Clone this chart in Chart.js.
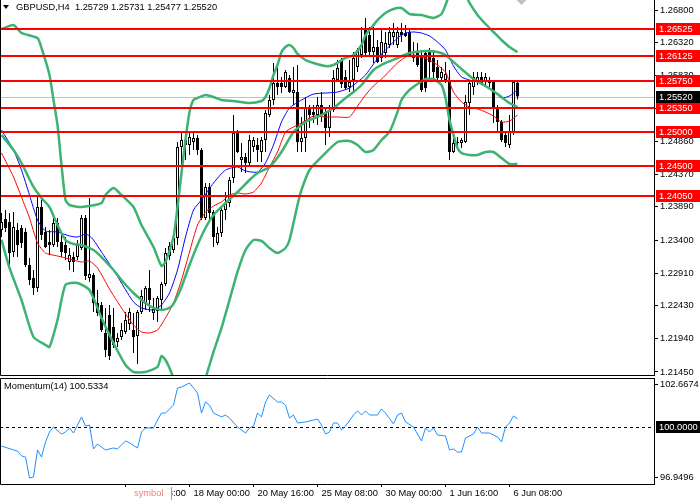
<!DOCTYPE html>
<html>
<head>
<meta charset="utf-8">
<script src="https://cdn.jsdelivr.net/npm/chart.js@4.4.0/dist/chart.umd.min.js"></script>
<style>
html, body { margin: 0; padding: 0; background: #fff; }
#wrap { position: relative; width: 700px; height: 500px; overflow: hidden; background: #fff; }
#priceCanvas { position: absolute; left: 0; top: 0; }
#momCanvas { position: absolute; left: 0; top: 377px; }
</style>
</head>
<body>
<div id="wrap">
  <canvas id="priceCanvas" width="700" height="377"></canvas>
  <canvas id="momCanvas" width="700" height="123"></canvas>
</div>
<script>
// GBPUSD H4 candles, index 0 = oldest bar on screen
const opens = [
  1.23549,1.23711,1.23667,1.23223,1.23549,1.23578,1.23519,1.23031,1.22839,1.22691,
  1.23889,1.23519,1.23371,1.23327,1.23652,1.23371,1.23327,1.23076,1.23149,1.23149,
  1.23283,1.23726,1.22839,1.22883,1.22470,1.22440,1.22026,1.22292,1.22115,1.21893,
  1.21967,1.22041,1.22159,1.22071,1.21982,1.22337,1.22455,1.22691,1.22322,1.22351,
  1.22514,1.22750,1.23164,1.23253,1.23430,1.24775,1.24879,1.24805,1.24849,1.24908,
  1.24731,1.23726,1.24184,1.23815,1.23356,1.23504,1.23844,1.23948,1.24317,1.24982,
  1.24583,1.24628,1.24539,1.24775,1.24805,1.24701,1.24879,1.25248,1.25470,1.25721,
  1.25721,1.25662,1.25795,1.25573,1.25588,1.24849,1.24908,1.25352,1.25293,1.25248,
  1.25396,1.25293,1.25056,1.25322,1.25766,1.26061,1.25810,1.25662,1.25766,1.25958,
  1.26135,1.26505,1.26431,1.26179,1.26253,1.26091,1.26165,1.26283,1.26401,1.26283,
  1.26475,1.26460,1.26475,1.26135,1.26165,1.26135,1.26165,1.26209,1.26091,1.25958,
  1.25795,1.25766,1.25766,1.24701,1.24834,1.24834,1.24849,1.25426,1.25662,1.25736,
  1.25810,1.25736,1.25766,1.25736,1.25367,1.25145,1.24953,1.24805,1.24982,1.25729
];
const highs = [
  1.23800,1.23844,1.23800,1.23815,1.23652,1.23622,1.23578,1.23135,1.22957,1.24036,
  1.24036,1.23593,1.23549,1.23726,1.23726,1.23504,1.23445,1.23283,1.23223,1.23401,
  1.23770,1.23770,1.24022,1.22913,1.22662,1.22484,1.22396,1.22440,1.22396,1.22026,
  1.22174,1.22337,1.22396,1.22322,1.22366,1.22662,1.22721,1.22957,1.22544,1.22573,
  1.22780,1.23283,1.23371,1.23460,1.24849,1.24982,1.24982,1.24982,1.24997,1.24953,
  1.24761,1.24243,1.24243,1.23844,1.23593,1.23874,1.24110,1.24332,1.25248,1.25027,
  1.24834,1.24687,1.24953,1.24923,1.24908,1.24923,1.25322,1.25544,1.26017,1.26017,
  1.25810,1.25913,1.25839,1.25958,1.25987,1.25219,1.25500,1.25396,1.25396,1.25514,
  1.25588,1.25367,1.25396,1.25913,1.26061,1.26091,1.25913,1.26061,1.26179,1.26239,
  1.26549,1.26682,1.26549,1.26549,1.26357,1.26534,1.26475,1.26549,1.26608,1.26549,
  1.26608,1.26578,1.26505,1.26327,1.26312,1.26209,1.26209,1.26239,1.26209,1.26061,
  1.25958,1.26032,1.25913,1.24982,1.24923,1.24908,1.25544,1.25766,1.25884,1.25884,
  1.25884,1.25869,1.25810,1.25766,1.25396,1.25174,1.24997,1.25248,1.25766,1.25731
];
const lows = [
  1.23445,1.23519,1.23002,1.23149,1.23149,1.23283,1.23002,1.22736,1.22588,1.22632,
  1.23401,1.23283,1.23179,1.23297,1.23297,1.23149,1.23105,1.22957,1.22928,1.23105,
  1.23253,1.22810,1.22780,1.22337,1.22278,1.22041,1.21672,1.21627,1.21805,1.21819,
  1.21923,1.22011,1.22071,1.21731,1.21568,1.22307,1.22366,1.22337,1.22218,1.22189,
  1.22366,1.22721,1.23105,1.23209,1.23327,1.24509,1.24583,1.24657,1.24731,1.24657,
  1.23696,1.23696,1.23696,1.23297,1.23327,1.23445,1.23696,1.23889,1.24243,1.24687,
  1.24406,1.24391,1.24509,1.24701,1.24554,1.24554,1.24701,1.25219,1.25396,1.25544,
  1.25573,1.25647,1.25573,1.25396,1.24701,1.24701,1.24701,1.25056,1.25130,1.25100,
  1.25145,1.24805,1.24923,1.25293,1.25736,1.25647,1.25618,1.25588,1.25588,1.25884,
  1.26091,1.26106,1.26106,1.26017,1.26017,1.26032,1.26091,1.26239,1.26283,1.26239,
  1.26327,1.26401,1.26106,1.26032,1.25958,1.25588,1.25588,1.25766,1.25795,1.25766,
  1.25736,1.25721,1.24583,1.24687,1.24775,1.24761,1.24834,1.25248,1.25544,1.25692,
  1.25692,1.25662,1.25662,1.25130,1.24997,1.24849,1.24775,1.24761,1.24953,1.25477
];
const closes = [
  1.23667,1.23578,1.23209,1.23593,1.23327,1.23356,1.23031,1.22810,1.22691,1.23889,
  1.23475,1.23297,1.23327,1.23652,1.23371,1.23223,1.23209,1.23179,1.23076,1.23327,
  1.23726,1.22869,1.22898,1.22470,1.22322,1.22071,1.21775,1.21686,1.21849,1.21952,
  1.22071,1.22218,1.22337,1.21967,1.22337,1.22573,1.22691,1.22514,1.22381,1.22544,
  1.22750,1.23209,1.23312,1.23430,1.24775,1.24879,1.24805,1.24923,1.24908,1.24731,
  1.23726,1.24184,1.23800,1.23445,1.23504,1.23844,1.23948,1.24288,1.24982,1.24701,
  1.24628,1.24539,1.24879,1.24879,1.24731,1.24879,1.25278,1.25470,1.25721,1.25662,
  1.25662,1.25884,1.25588,1.25618,1.24849,1.24908,1.25352,1.25248,1.25248,1.25396,
  1.25248,1.25056,1.25322,1.25795,1.25943,1.25706,1.25647,1.25736,1.26091,1.26209,
  1.26283,1.26165,1.26179,1.26253,1.26032,1.26327,1.26312,1.26475,1.26475,1.26475,
  1.26431,1.26416,1.26135,1.26091,1.25987,1.25618,1.25647,1.26032,1.25884,1.25795,
  1.25884,1.25854,1.24701,1.24834,1.24849,1.24879,1.25440,1.25721,1.25810,1.25810,
  1.25721,1.25810,1.25721,1.25367,1.25145,1.24879,1.24834,1.24997,1.25736,1.25520
];

// Bollinger bands (bar index, value)
const bbUpIdx = [0,3,5,9,10,12,13,14,15,16,17,20,25,26,28,30,33,35,38,40,41,43,44,45,46,47,48,49,51,53,55,58,62,65,66,67,68,69,70,71,72,73,74,76,78,81,83,86,88,90,91,92,94,96,98,100,102,105,108,110,111,112,114,116,117,119,121,123,125,127,129];
const bbUp = [1.26519,1.26578,1.26460,1.26386,1.26239,1.25839,1.25470,1.25100,1.24509,1.23992,1.23918,1.23888,1.23947,1.24066,1.24169,1.24066,1.23888,1.23622,1.23297,1.23016,1.23076,1.23445,1.23888,1.24391,1.24879,1.25292,1.25470,1.25499,1.25544,1.25514,1.25470,1.25455,1.25425,1.25455,1.25514,1.25647,1.25839,1.25987,1.26179,1.26253,1.26283,1.26238,1.26150,1.26061,1.26017,1.25972,1.25987,1.26091,1.26135,1.26283,1.26430,1.26504,1.26652,1.26756,1.26815,1.26830,1.26741,1.26726,1.26682,1.26741,1.26874,1.27022,1.27125,1.27022,1.26904,1.26726,1.26593,1.26475,1.26357,1.26253,1.26179];
const bbMidIdx = [0,3,5,8,10,12,14,16,18,20,23,25,28,30,33,36,38,40,42,43,45,47,49,51,53,56,59,62,64,67,70,73,76,79,83,86,88,90,93,96,99,102,106,109,111,113,115,118,121,124,127,129];
const bbMid = [1.24953,1.24731,1.24539,1.24184,1.24021,1.23888,1.23622,1.23401,1.23342,1.23327,1.23253,1.23149,1.22957,1.22809,1.22617,1.22469,1.22396,1.22366,1.22396,1.22455,1.22706,1.23031,1.23327,1.23578,1.23770,1.23947,1.24110,1.24287,1.24391,1.24480,1.24701,1.24997,1.25145,1.25219,1.25352,1.25500,1.25588,1.25692,1.25913,1.26017,1.26091,1.26164,1.26194,1.26179,1.26135,1.26031,1.25928,1.25780,1.25677,1.25559,1.25425,1.25366];
const bbLowIdx = [0,2,5,8,11,12,14,16,19,22,25,28,31,33,36,39,40,41,42,43,45,47,49,51,53,55,57,59,61,63,65,67,69,71,72,74,75,77,80,84,87,89,91,93,95,97,99,100,102,104,106,108,110,111,112,113,114,115,117,119,121,123,125,127,129];
const bbLow = [1.23401,1.22987,1.22514,1.21967,1.21849,1.21819,1.22218,1.22736,1.22765,1.22662,1.22248,1.21878,1.21553,1.21450,1.21450,1.21524,1.21686,1.21627,1.21509,1.21361,1.21110,1.20962,1.21036,1.21361,1.21745,1.22100,1.22514,1.22928,1.23253,1.23401,1.23386,1.23282,1.23208,1.23282,1.23401,1.23918,1.24140,1.24435,1.24627,1.24849,1.24864,1.24805,1.24701,1.24731,1.24879,1.24997,1.25292,1.25470,1.25618,1.25706,1.25780,1.25780,1.25691,1.25499,1.25174,1.24953,1.24760,1.24686,1.24657,1.24657,1.24701,1.24701,1.24612,1.24524,1.24524];

// moving averages (blue = fast, red = slow)
const maFastIdx = [0,3,5,7,9,11,14,17,19,21,22,23,25,28,30,33,35,38,40,42,44,46,48,50,53,56,59,61,64,66,68,70,72,75,78,81,84,87,89,91,93,95,97,99,101,103,105,107,109,111,113,115,117,119,121,123,125,127,129];
const maFast = [1.25026,1.24731,1.24435,1.24066,1.23696,1.23533,1.23519,1.23460,1.23445,1.23489,1.23460,1.23401,1.23223,1.22957,1.22765,1.22484,1.22396,1.22366,1.22440,1.22617,1.22957,1.23445,1.23844,1.23992,1.24243,1.24435,1.24480,1.24420,1.24406,1.24539,1.24805,1.25145,1.25352,1.25470,1.25558,1.25573,1.25588,1.25647,1.25736,1.25839,1.26002,1.26150,1.26268,1.26386,1.26460,1.26475,1.26460,1.26416,1.26327,1.26209,1.25972,1.25810,1.25765,1.25736,1.25677,1.25603,1.25499,1.25529,1.25618];
const maSlowIdx = [0,3,5,7,9,11,14,17,20,22,24,27,30,33,35,37,39,41,43,45,47,49,51,53,55,57,59,61,63,65,67,69,71,73,75,78,81,84,87,89,91,93,95,97,99,101,103,105,107,109,111,112,113,115,117,119,121,123,125,127,129];
const maSlow = [1.24687,1.24332,1.24036,1.23726,1.23356,1.23208,1.23164,1.23120,1.23075,1.23090,1.22987,1.22676,1.22396,1.22144,1.22041,1.22026,1.22070,1.22248,1.22469,1.22809,1.23223,1.23622,1.23814,1.23903,1.23962,1.24066,1.24095,1.24080,1.24110,1.24243,1.24480,1.24701,1.24997,1.25071,1.25130,1.25233,1.25219,1.25219,1.25219,1.25381,1.25544,1.25677,1.25780,1.25898,1.26017,1.26105,1.26135,1.26105,1.26061,1.25987,1.25884,1.25736,1.25588,1.25440,1.25366,1.25337,1.25292,1.25233,1.25144,1.25159,1.25248];

// Momentum(14)
const momIdx = [0,3,4,5,6,7,8,9,10,11,12,13,15,16,17,18,20,21,22,23,24,26,28,29,31,32,34,35,36,38,39,40,41,43,44,45,47,49,50,51,52,53,55,56,57,59,60,61,62,63,64,65,66,67,69,70,71,72,73,74,76,78,79,80,81,82,83,84,85,86,88,89,90,91,92,94,95,96,98,99,100,101,103,105,106,107,108,109,111,112,113,114,115,116,118,119,120,122,124,125,126,127,128,129];
const momVal = [98.86,98.62,98.55,98.25,98.18,96.89,96.95,98.62,98.18,99.11,99.72,100.03,99.60,99.72,99.97,99.66,100.65,100.09,100.15,98.68,98.98,98.62,98.74,98.68,99.17,99.05,98.74,99.72,99.97,99.97,100.46,100.89,100.89,101.38,102.43,102.49,102.74,102.12,100.89,101.57,101.38,100.89,100.65,100.77,100.58,100.03,99.85,99.66,99.97,100.09,100.89,100.65,101.57,102.00,101.57,101.57,101.38,100.58,100.77,100.28,100.34,100.46,100.52,100.15,99.60,99.72,100.28,100.28,99.85,100.09,100.77,101.02,100.77,101.02,100.77,100.77,101.14,100.89,100.22,100.77,100.89,100.34,100.03,99.17,99.97,99.72,99.97,99.54,99.48,98.62,98.68,98.49,98.49,99.35,99.60,100.03,99.66,99.66,99.42,99.11,100.03,100.28,100.71,100.5334];
const momLevel = 100;

// horizontal levels and axis ticks
const levels = [1.26525, 1.26125, 1.25750, 1.25350, 1.25000, 1.24500, 1.24050];
const priceTicks = [1.26800, 1.26320, 1.25830, 1.25340, 1.24860, 1.24370, 1.23890, 1.23400, 1.22910, 1.22430, 1.21940, 1.21450];
const momTicks = [96.9496, 102.6674];
const timeIdx = [31, 47, 63, 79, 95, 111, 127];
const timeLabels = ['13 May 08:00', '18 May 00:00', '20 May 16:00', '25 May 08:00', '30 May 00:00', '1 Jun 16:00', '6 Jun 08:00'];

const symbolName = 'GBPUSD,H4';
const last = closes.length - 1;
const lastClose = closes[last];

const FONT_FAMILY = '"Liberation Sans", Arial, sans-serif';
const FONT_SIZE = 9.3;
Chart.defaults.font.family = FONT_FAMILY;
Chart.defaults.font.size = FONT_SIZE;
Chart.defaults.color = '#000';

const xMin = -0.375, xMax = 163.125;
const AXIS_W = 46;

function pts(idx, vals) {
    return idx.map((x, k) => ({ x: x, y: vals[k] }));
}

function lineSet(data, color, width, order) {
    return {
        type: 'line', data: data, borderColor: color, borderWidth: width,
        pointRadius: 0, fill: false, tension: 0.2, order: order
    };
}

function fixRightAxis(scale) {
    scale.width = AXIS_W;
    scale.paddingTop = 0;
    scale.paddingBottom = 0;
}

function axisBox(ctx, area, py, text, bg) {
    const y = Math.round(py);
    ctx.fillStyle = bg;
    ctx.fillRect(area.right + 2, y - 6, 44, 12);
    ctx.fillStyle = '#fff';
    ctx.font = FONT_SIZE + 'px ' + FONT_FAMILY;
    ctx.textAlign = 'left';
    ctx.textBaseline = 'middle';
    ctx.fillText(text, area.right + 5, y + 0.5);
}

const candleIdx = opens.map((_, i) => i);

// price window plugin: ask line, levels, frame, axis boxes, title
const pricePanel = {
    id: 'pricePanel',
    beforeDatasetsDraw(chart) {
        const { ctx, chartArea: a, scales: { y } } = chart;
        const py = Math.round(y.getPixelForValue(lastClose)) + 0.5;
        ctx.save();
        ctx.strokeStyle = '#c0c0c0';
        ctx.lineWidth = 1;
        ctx.beginPath();
        ctx.moveTo(a.left, py);
        ctx.lineTo(a.right, py);
        ctx.stroke();
        ctx.restore();
    },
    afterDatasetsDraw(chart) {
        const { ctx, chartArea: a, scales: { x, y } } = chart;
        ctx.save();
        ctx.fillStyle = '#ff0000';
        levels.forEach(v => {
            const py = Math.round(y.getPixelForValue(v));
            ctx.fillRect(a.left, py - 1, a.right - a.left, 2);
        });
        // chart shift marker
        const sx = x.getPixelForValue(last) + 4;
        ctx.fillStyle = '#c0c0c0';
        ctx.beginPath();
        ctx.moveTo(sx - 5, a.top);
        ctx.lineTo(sx + 5, a.top);
        ctx.lineTo(sx, a.top + 5);
        ctx.closePath();
        ctx.fill();
        // frame
        ctx.strokeStyle = '#000';
        ctx.lineWidth = 1;
        ctx.beginPath();
        ctx.moveTo(a.left + 0.5, a.top);
        ctx.lineTo(a.left + 0.5, a.bottom + 0.5);
        ctx.lineTo(a.right, a.bottom + 0.5);
        ctx.stroke();
        ctx.restore();
    },
    afterDraw(chart) {
        const { ctx, chartArea: a, scales: { y } } = chart;
        ctx.save();
        levels.forEach(v => axisBox(ctx, a, y.getPixelForValue(v), v.toFixed(5), '#ff0000'));
        axisBox(ctx, a, y.getPixelForValue(lastClose), lastClose.toFixed(5), '#000');
        // title
        ctx.fillStyle = '#000';
        ctx.beginPath();
        ctx.moveTo(3, 5);
        ctx.lineTo(9, 5);
        ctx.lineTo(6, 9);
        ctx.closePath();
        ctx.fill();
        ctx.font = FONT_SIZE + 'px ' + FONT_FAMILY;
        ctx.textAlign = 'left';
        ctx.textBaseline = 'middle';
        const ohlc = [opens[last], highs[last], lows[last], closes[last]].map(v => v.toFixed(5)).join(' ');
        ctx.fillText(symbolName + '  ' + ohlc, 16, 7.5);
        ctx.restore();
    }
};

new Chart(document.getElementById('priceCanvas').getContext('2d'), {
    type: 'bar',
    data: {
        datasets: [
            {
                data: candleIdx.map(i => ({ x: i, y: [lows[i], highs[i]] })),
                backgroundColor: '#000', borderWidth: 0, barThickness: 1,
                grouped: false, inflateAmount: 0, order: 10
            },
            {
                data: candleIdx.map(i => ({ x: i, y: [opens[i], closes[i]] })),
                backgroundColor: c => closes[c.dataIndex] >= opens[c.dataIndex] ? '#ffffff' : '#000000',
                borderColor: '#000', borderWidth: 1, borderSkipped: false,
                barThickness: 3, grouped: false, inflateAmount: 0, order: 9
            },
            lineSet(pts(maSlowIdx, maSlow), '#ff0000', 1, 5),
            lineSet(pts(maFastIdx, maFast), '#0000ff', 1, 4),
            lineSet(pts(bbLowIdx, bbLow), '#3cb371', 2.5, 3),
            lineSet(pts(bbMidIdx, bbMid), '#3cb371', 2.5, 2),
            lineSet(pts(bbUpIdx, bbUp), '#3cb371', 2.5, 1)
        ]
    },
    options: {
        responsive: false,
        animation: false,
        events: [],
        layout: { padding: { left: 0, right: 0, top: 0, bottom: 2 } },
        plugins: { legend: { display: false }, tooltip: { enabled: false } },
        scales: {
            x: { type: 'linear', min: xMin, max: xMax, offset: false, display: false, grid: { offset: false } },
            y: {
                type: 'linear', position: 'right', min: 1.21405, max: 1.26948,
                afterFit: fixRightAxis,
                afterBuildTicks: s => { s.ticks = priceTicks.map(v => ({ value: v })); },
                ticks: { callback: v => v.toFixed(5), padding: 2, color: '#000', font: { size: FONT_SIZE } },
                grid: { drawOnChartArea: false, tickLength: 4, color: '#000' },
                border: { display: true, color: '#000', width: 1 }
            }
        }
    },
    plugins: [pricePanel]
});

// momentum window plugin
const momPanel = {
    id: 'momPanel',
    beforeDatasetsDraw(chart) {
        const { ctx, chartArea: a, scales: { y } } = chart;
        const py = Math.round(y.getPixelForValue(momLevel)) + 0.5;
        ctx.save();
        ctx.strokeStyle = '#000';
        ctx.lineWidth = 1;
        ctx.setLineDash([3, 3]);
        ctx.beginPath();
        ctx.moveTo(a.left, py);
        ctx.lineTo(a.right, py);
        ctx.stroke();
        ctx.restore();
    },
    afterDatasetsDraw(chart) {
        const { ctx, chartArea: a } = chart;
        ctx.save();
        ctx.strokeStyle = '#000';
        ctx.lineWidth = 1;
        ctx.beginPath();
        ctx.moveTo(a.right, a.top + 0.5);
        ctx.lineTo(a.left + 0.5, a.top + 0.5);
        ctx.lineTo(a.left + 0.5, a.bottom + 0.5);
        ctx.lineTo(a.right, a.bottom + 0.5);
        ctx.stroke();
        ctx.restore();
    },
    afterDraw(chart) {
        const { ctx, chartArea: a, scales: { y } } = chart;
        ctx.save();
        axisBox(ctx, a, y.getPixelForValue(momLevel), momLevel.toFixed(4), '#000');
        ctx.fillStyle = '#000';
        ctx.font = FONT_SIZE + 'px ' + FONT_FAMILY;
        ctx.textAlign = 'left';
        ctx.textBaseline = 'middle';
        ctx.fillText('Momentum(14) ' + momVal[momVal.length - 1].toFixed(4), 4, a.top + 8.5);
        // symbol tab covering the first time label
        const h = chart.height;
        ctx.fillStyle = '#fff';
        ctx.fillRect(126, a.bottom + 2, 45, h - a.bottom - 2);
        ctx.strokeStyle = '#a0a0a0';
        ctx.beginPath();
        ctx.moveTo(171.5, a.bottom + 3);
        ctx.lineTo(171.5, h);
        ctx.stroke();
        ctx.fillStyle = '#f08080';
        ctx.fillText('symbol', 134, a.bottom + 9.5);
        ctx.restore();
    }
};

new Chart(document.getElementById('momCanvas').getContext('2d'), {
    type: 'line',
    data: {
        datasets: [{
            data: pts(momIdx, momVal), borderColor: '#1e90ff', borderWidth: 1,
            pointRadius: 0, fill: false, tension: 0
        }]
    },
    options: {
        responsive: false,
        animation: false,
        events: [],
        layout: { padding: { left: 0, right: 0, top: 1, bottom: 0 } },
        plugins: { legend: { display: false }, tooltip: { enabled: false } },
        scales: {
            x: {
                type: 'linear', min: xMin, max: xMax, offset: false, position: 'bottom',
                afterBuildTicks: s => { s.ticks = timeIdx.map(v => ({ value: v })); },
                afterFit: s => { s.height = 16; s.paddingLeft = 0; s.paddingRight = 0; },
                ticks: {
                    callback: v => timeLabels[timeIdx.indexOf(v)],
                    align: 'start', labelOffset: 4, padding: 1,
                    maxRotation: 0, minRotation: 0, autoSkip: false, color: '#000', font: { size: FONT_SIZE }
                },
                grid: { drawOnChartArea: false, tickLength: 3, color: '#000', offset: false },
                border: { display: false }
            },
            y: {
                type: 'linear', position: 'right', min: 96.523, max: 103.046,
                afterFit: fixRightAxis,
                afterBuildTicks: s => { s.ticks = momTicks.map(v => ({ value: v })); },
                ticks: { callback: v => v.toFixed(4), padding: 2, color: '#000', font: { size: FONT_SIZE } },
                grid: { drawOnChartArea: false, tickLength: 4, color: '#000' },
                border: { display: true, color: '#000', width: 1 }
            }
        }
    },
    plugins: [momPanel]
});
</script>
</body>
</html>
